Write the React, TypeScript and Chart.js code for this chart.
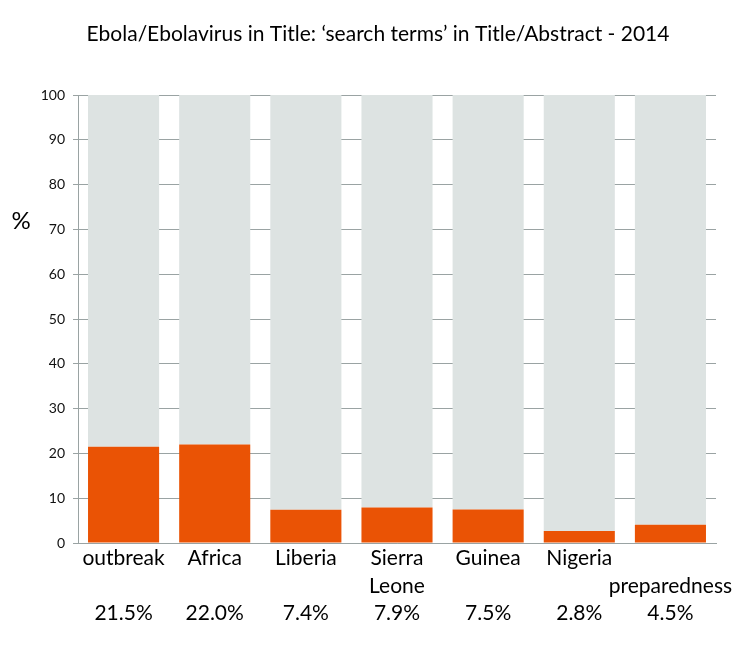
import React, { useEffect, useRef } from "react";
import { Chart, registerables } from "chart.js";

Chart.register(...registerables);

const categories: string[][] = [
  ["outbreak", "", "21.5%"],
  ["Africa", "", "22.0%"],
  ["Liberia", "", "7.4%"],
  ["Sierra", "Leone", "7.9%"],
  ["Guinea", "", "7.5%"],
  ["Nigeria", "", "2.8%"],
  ["", "preparedness", "4.5%"],
];
const searchTermValues: number[] = [21.5, 22.0, 7.4, 7.9, 7.5, 2.7, 4.1];
const totalValues: number[] = [100, 100, 100, 100, 100, 100, 100];
const yTicks: number[] = [0, 10, 20, 30, 40, 50, 60, 70, 80, 90, 100];
const titleText = "Ebola/Ebolavirus in Title: \u2018search terms\u2019 in Title/Abstract - 2014";
const yLabel = "%";

const FONT = "Lato, 'Open Sans', sans-serif";

export default function App() {
  const ref = useRef<HTMLCanvasElement | null>(null);
  useEffect(() => {
    if (!ref.current) return;
    const rest = totalValues.map((t, i) => t - searchTermValues[i]);
    const textPlugin = {
      id: "texts",
      afterDraw(chart: any) {
        const ctx = chart.ctx;
        ctx.save();
        ctx.fillStyle = "#000";
        ctx.textAlign = "center";
        ctx.textBaseline = "middle";
        ctx.font = `21px ${FONT}`;
        ctx.fillText(titleText, 378, 34);
        ctx.font = `24px ${FONT}`;
        const y = chart.scales.y.getPixelForValue(70) - 8;
        ctx.fillText(yLabel, 21, y);
        ctx.restore();
      },
    };
    const chart = new Chart(ref.current, {
      type: "bar",
      data: {
        labels: categories,
        datasets: [
          {
            label: "search terms",
            data: searchTermValues,
            backgroundColor: "#EA5305",
            borderWidth: 0,
            barPercentage: 0.78,
            categoryPercentage: 1,
          },
          {
            label: "rest",
            data: rest,
            backgroundColor: "#DDE3E2",
            borderWidth: 0,
            barPercentage: 0.78,
            categoryPercentage: 1,
          },
        ],
      },
      options: {
        animation: false,
        responsive: false,
        maintainAspectRatio: false,
        layout: { padding: { top: 95, right: 38, left: 0, bottom: 0 } },
        plugins: {
          legend: { display: false },
          title: { display: false },
          tooltip: { enabled: false },
        },
        scales: {
          x: {
            stacked: true,
            grid: { display: false, drawTicks: false },
            border: { display: true, color: "#9AA3A3", width: 1 },
            ticks: {
              color: "#000",
              font: { family: FONT, size: 21, lineHeight: 1.3 },
              padding: 2,
              maxRotation: 0,
              autoSkip: false,
            },
            afterFit: (s: any) => {
              s.height = 105;
            },
          },
          y: {
            stacked: true,
            min: 0,
            max: 100,
            afterBuildTicks: (s: any) => {
              s.ticks = yTicks.map((v) => ({ value: v }));
            },
            grid: {
              color: "#9AA3A3",
              lineWidth: 1,
              drawTicks: true,
              tickLength: 5,
            },
            border: { display: true, color: "#9AA3A3", width: 1 },
            ticks: {
              color: "#111",
              font: { family: FONT, size: 14 },
              padding: 8,
            },
            afterFit: (s: any) => {
              s.width = 78;
            },
          },
        },
      },
      plugins: [textPlugin],
    });
    return () => chart.destroy();
  }, []);
  return (
    <div style={{ position: "fixed", left: 0, top: 0, width: 754, height: 648, background: "#fff" }}>
      <canvas ref={ref} width={754} height={648} style={{ width: 754, height: 648 }} />
    </div>
  );
}
